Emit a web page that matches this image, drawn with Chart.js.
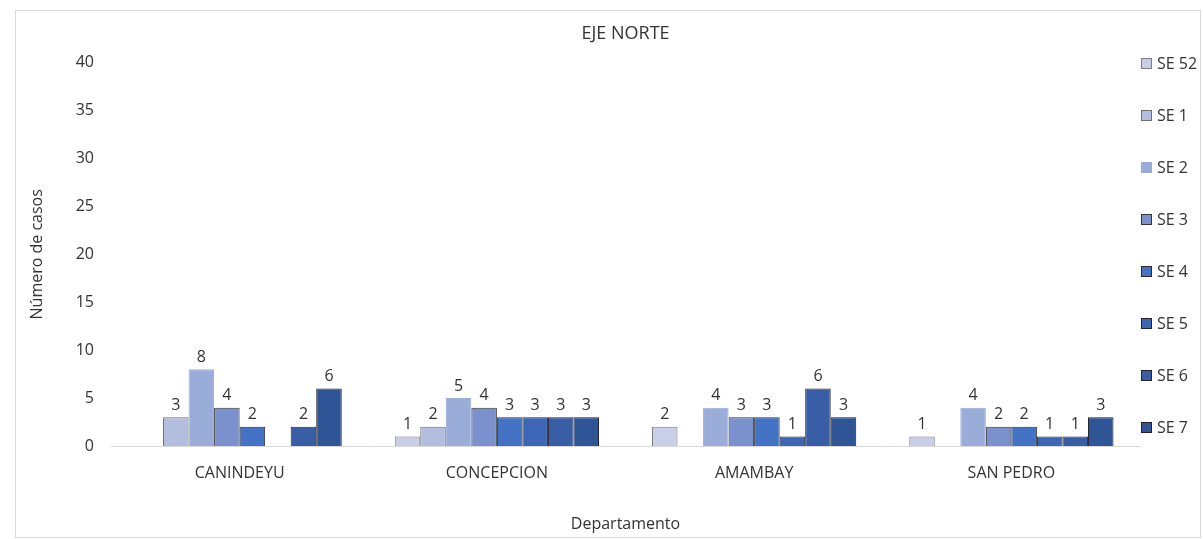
<!DOCTYPE html>
<html>
<head>
<meta charset="utf-8">
<script src="https://cdn.jsdelivr.net/npm/chart.js@4.4.1/dist/chart.umd.min.js"></script>
<style>
  html, body { margin: 0; padding: 0; background: #fff; }
  #wrap {
    position: absolute; left: 15px; top: 10px;
    width: 1186px; height: 528px;
    border: 1px solid #d9d9d9; box-sizing: border-box;
  }
</style>
</head>
<body>
<div id="wrap"><canvas id="chart"></canvas></div>
<script>
"use strict";

const departamentos = ['CANINDEYU', 'CONCEPCION', 'AMAMBAY', 'SAN PEDRO'];
const semanas = ['SE 52', 'SE 1', 'SE 2', 'SE 3', 'SE 4', 'SE 5', 'SE 6', 'SE 7'];

// casos por semana, en el orden de departamentos
const se52 = [0, 1, 2, 1];
const se1 = [3, 2, 0, 0];
const se2 = [8, 5, 4, 4];
const se3 = [4, 4, 3, 2];
const se4 = [2, 3, 3, 2];
const se5 = [0, 3, 1, 1];
const se6 = [2, 3, 6, 1];
const se7 = [6, 3, 3, 3];

const yTicks = [0, 5, 10, 15, 20, 25, 30, 35, 40];

const fillColors = ['#c9cee9', '#b3bddd', '#9aadd9', '#7b91cd', '#4472c4', '#3e66b6', '#3a5ea6', '#2f5597'];
const lineColors = ['#7f7f7f', '#6f6f6f', '#9aadd9', '#333333', '#2b2b2b', '#262626', '#262626', '#222222'];

const FONT = '"Open Sans", "DejaVu Sans", sans-serif';
const TEXT = '#333333';

const series = [se52, se1, se2, se3, se4, se5, se6, se7];

// draws the value on top of every non-zero bar
const valueLabels = {
  id: 'valueLabels',
  afterDatasetsDraw(chart) {
    const ctx = chart.ctx;
    ctx.save();
    ctx.font = '16px ' + FONT;
    ctx.fillStyle = TEXT;
    ctx.textAlign = 'center';
    ctx.textBaseline = 'bottom';
    chart.data.datasets.forEach((ds, i) => {
      const meta = chart.getDatasetMeta(i);
      meta.data.forEach((bar, j) => {
        const v = ds.data[j];
        if (!v) return;
        ctx.fillText(String(v), bar.x, bar.y - 4);
      });
    });
    ctx.restore();
  }
};

// legend down the right side, one entry every 52px starting at the top of the plot
const sideLegend = {
  id: 'sideLegend',
  afterDraw(chart) {
    const ctx = chart.ctx;
    const area = chart.chartArea;
    ctx.save();
    ctx.font = '16px ' + FONT;
    ctx.fillStyle = TEXT;
    ctx.textAlign = 'left';
    ctx.textBaseline = 'middle';
    chart.data.datasets.forEach((ds, i) => {
      const x = Math.round(area.right) + 1;
      const y = Math.round(area.top + i * 52);
      ctx.fillStyle = ds.backgroundColor;
      ctx.fillRect(x, y - 5, 11, 11);
      ctx.strokeStyle = ds.borderColor;
      ctx.lineWidth = 1;
      ctx.strokeRect(x + 0.5, y - 4.5, 10, 10);
      ctx.fillStyle = TEXT;
      ctx.fillText(ds.label, x + 16, y + 1);
    });
    ctx.restore();
  }
};

new Chart(document.getElementById('chart'), {
  type: 'bar',
  data: {
    labels: departamentos,
    datasets: semanas.map((s, i) => ({
      label: s,
      data: series[i],
      backgroundColor: fillColors[i],
      borderColor: lineColors[i],
      borderWidth: 1,
      categoryPercentage: 0.794,
      barPercentage: 1
    }))
  },
  options: {
    responsive: true,
    maintainAspectRatio: false,
    animation: false,
    layout: { padding: { top: 0, right: 60, bottom: 0, left: 0 } },
    plugins: {
      title: {
        display: true,
        fullSize: false,
        text: 'EJE NORTE',
        color: TEXT,
        font: { family: FONT, size: 18, weight: 'normal' },
        padding: { top: 12, bottom: 18 }
      },
      legend: { display: false },
      tooltip: { enabled: false }
    },
    scales: {
      x: {
        grid: { display: false, drawTicks: false },
        border: { display: true, color: '#d9d9d9' },
        ticks: { color: TEXT, font: { family: FONT, size: 16 }, padding: 18 },
        title: {
          display: true,
          text: 'Departamento',
          color: TEXT,
          font: { family: FONT, size: 16 },
          padding: { top: 20, bottom: 3 }
        },
        afterFit(scale) { scale.height = 91; }
      },
      y: {
        min: 0,
        max: 40,
        afterBuildTicks(scale) { scale.ticks = yTicks.map(v => ({ value: v })); },
        grid: { display: false, drawTicks: false },
        border: { display: false },
        ticks: { color: TEXT, font: { family: FONT, size: 16 }, padding: 17 },
        title: {
          display: true,
          text: 'Número de casos',
          color: TEXT,
          font: { family: FONT, size: 16 },
          padding: { top: 12, bottom: 0 }
        },
        afterFit(scale) { scale.width = 95; }
      }
    }
  },
  plugins: [valueLabels, sideLegend]
});
</script>
</body>
</html>
